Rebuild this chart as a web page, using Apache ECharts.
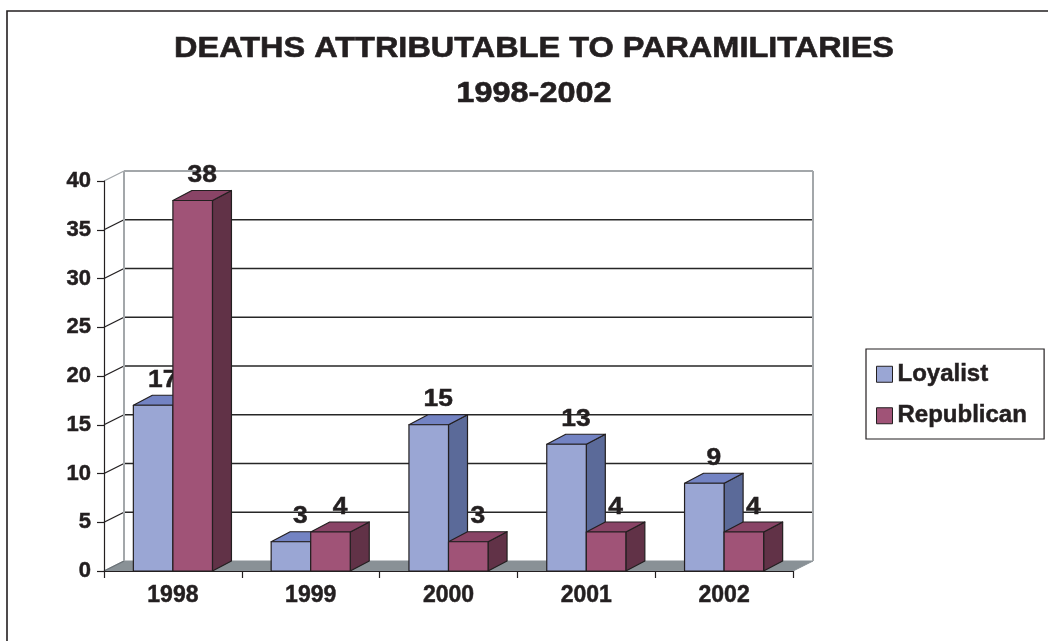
<!DOCTYPE html>
<html>
<head>
<meta charset="utf-8">
<script src="https://cdn.jsdelivr.net/npm/echarts@6/dist/echarts.min.js"></script>
<style>
  html, body { margin: 0; padding: 0; background: #ffffff; }
  #chart { width: 1048px; height: 641px; }
</style>
</head>
<body>
<div id="chart"></div>
<script>
// Deaths attributable to paramilitaries, by year
const categories = ['1998', '1999', '2000', '2001', '2002'];
const loyalist   = [17, 3, 15, 13, 9];
const republican = [38, 4, 3, 4, 4];
const yTicks     = [0, 5, 10, 15, 20, 25, 30, 35, 40];
const titleLines = ['DEATHS ATTRIBUTABLE TO PARAMILITARIES', '1998-2002'];

// depth offsets for the pseudo-3D walls and the bars
const WALL_DX = 20, WALL_DY = -10;
const BAR_DX = 19, BAR_DY = -10;
const BAR_FRAC = 0.287;
const INK = '#231f20';
const FONT = '"Liberation Sans", Arial, Helvetica, sans-serif';
const HEAVY = { textBorderColor: INK, textBorderWidth: 0.5 };

const palette = {
  Loyalist:   { front: '#9aa6d4', top: '#7383c3', side: '#5b6a99' },
  Republican: { front: '#a05377', top: '#894466', side: '#613247' }
};

const yMax = yTicks[yTicks.length - 1];

// Back wall, floor and left wall: one item per y tick
function renderFrame(params, api) {
  const v = api.value(1);
  const n = categories.length;
  const bw = api.size([1, 0])[0];
  const p0 = api.coord([0, v]);
  const pN = api.coord([n - 1, v]);
  const xL = p0[0] - bw / 2, xR = pN[0] + bw / 2, y = p0[1];
  const children = [];
  const isTop = v === yMax;
  if (v === 0) {
    children.push({
      type: 'polygon',
      shape: { points: [[xL, y], [xR, y], [xR + WALL_DX, y + WALL_DY], [xL + WALL_DX, y + WALL_DY]] },
      style: { fill: '#899196', stroke: '#899196', lineWidth: 1 }
    });
  } else {
    children.push({
      type: 'line',
      shape: { x1: xL + WALL_DX, y1: y + WALL_DY, x2: xR + WALL_DX, y2: y + WALL_DY },
      style: { stroke: isTop ? '#a3a7aa' : '#262626', lineWidth: isTop ? 2 : 1.4 }
    });
  }
  if (isTop) {
    const yb = api.coord([0, 0])[1];
    children.push({
      type: 'line',
      shape: { x1: xL + WALL_DX, y1: yb + WALL_DY, x2: xL + WALL_DX, y2: y + WALL_DY },
      style: { stroke: '#a3a7aa', lineWidth: 2 }
    });
    children.push({
      type: 'line',
      shape: { x1: xR + WALL_DX, y1: yb + WALL_DY, x2: xR + WALL_DX, y2: y + WALL_DY },
      style: { stroke: '#a3a7aa', lineWidth: 2 }
    });
  }
  children.push({
    type: 'line',
    shape: { x1: xL, y1: y, x2: xL + WALL_DX, y2: y + WALL_DY },
    style: { stroke: isTop ? '#a3a7aa' : (v === 0 ? '#6b7277' : INK), lineWidth: 1.3 }
  });
  return { type: 'group', children: children };
}

// One 3D column: front face, top face, right side face and value label
function makeBarRenderer(name, offsetSign) {
  const c = palette[name];
  return function (params, api) {
    const i = api.value(0), v = api.value(1);
    const base = api.coord([i, 0]);
    const top = api.coord([i, v]);
    const bw = api.size([1, 0])[0];
    const w = bw * BAR_FRAC;
    const x0 = offsetSign < 0 ? base[0] - w : base[0];
    const x1 = x0 + w;
    const yb = base[1], yt = top[1];
    const edge = { stroke: INK, lineWidth: 1.2, lineJoin: 'round' };
    return {
      type: 'group',
      children: [
        { type: 'polygon',
          shape: { points: [[x1, yt], [x1 + BAR_DX, yt + BAR_DY], [x1 + BAR_DX, yb + BAR_DY], [x1, yb]] },
          style: Object.assign({ fill: c.side }, edge) },
        { type: 'polygon',
          shape: { points: [[x0, yt], [x1, yt], [x1 + BAR_DX, yt + BAR_DY], [x0 + BAR_DX, yt + BAR_DY]] },
          style: Object.assign({ fill: c.top }, edge) },
        { type: 'rect',
          shape: { x: x0, y: yt, width: w, height: yb - yt },
          style: Object.assign({ fill: c.front }, edge) },
        { type: 'text',
          x: (x0 + x1) / 2 + BAR_DX / 2,
          y: yt + BAR_DY - 15,
          scaleX: 1.1,
          style: { text: String(v), x: 0, y: 0, fill: INK, font: 'bold 24px ' + FONT,
                   textAlign: 'center', textVerticalAlign: 'middle', stroke: INK, lineWidth: 0.5 } }
      ]
    };
  };
}

const chart = echarts.init(document.getElementById('chart'), null, { renderer: 'canvas' });

chart.setOption({
  animation: false,
  backgroundColor: '#ffffff',
  graphic: [
    { type: 'rect', z: 100, silent: true,
      shape: { x: 7, y: 11, width: 1200, height: 800 },
      style: { fill: 'none', stroke: INK, lineWidth: 1.6 } },
    { type: 'text', x: 534, y: 49, scaleX: 1.12,
      style: { text: titleLines[0], x: 0, y: 0, fill: INK, font: 'bold 29px ' + FONT,
               textAlign: 'center', textVerticalAlign: 'middle', stroke: INK, lineWidth: 0.6 } },
    { type: 'text', x: 534, y: 94, scaleX: 1.12,
      style: { text: titleLines[1], x: 0, y: 0, fill: INK, font: 'bold 29px ' + FONT,
               textAlign: 'center', textVerticalAlign: 'middle', stroke: INK, lineWidth: 0.6 } }
  ],
  legend: {
    orient: 'vertical',
    left: 866, top: 349,
    padding: [13, 17, 11, 10],
    itemGap: 17,
    itemWidth: 16, itemHeight: 16,
    icon: 'rect',
    borderColor: INK, borderWidth: 1.2, borderRadius: 0,
    textStyle: Object.assign({ color: INK, fontFamily: FONT, fontWeight: 'bold', fontSize: 24 }, HEAVY),
    data: [
      { name: 'Loyalist', itemStyle: { color: palette.Loyalist.front, borderColor: INK, borderWidth: 1 } },
      { name: 'Republican', itemStyle: { color: palette.Republican.front, borderColor: INK, borderWidth: 1 } }
    ]
  },
  grid: { left: 104, top: 181, width: 689, height: 390, containLabel: false },
  xAxis: {
    type: 'category',
    data: categories,
    axisLine: { show: true, lineStyle: { color: INK, width: 1.2 } },
    axisTick: { show: true, length: 7, lineStyle: { color: INK, width: 1.2 } },
    axisLabel: Object.assign({ color: INK, fontFamily: FONT, fontWeight: 'bold', fontSize: 23, margin: 13 }, HEAVY),
    splitLine: { show: false },
    z: 5
  },
  yAxis: {
    type: 'value',
    min: yTicks[0], max: yMax, interval: 5,
    axisLine: { show: true, lineStyle: { color: INK, width: 1.2 } },
    axisTick: { show: true, length: 7, lineStyle: { color: INK, width: 1.2 } },
    axisLabel: Object.assign({ color: INK, fontFamily: FONT, fontWeight: 'bold', fontSize: 22, margin: 13 }, HEAVY),
    splitLine: { show: false },
    z: 5
  },
  series: [
    { type: 'custom', name: 'frame', z: 1, silent: true, clip: false,
      renderItem: renderFrame,
      data: yTicks.map(v => [0, v]) },
    { type: 'custom', name: 'Loyalist', z: 3, clip: false,
      itemStyle: { color: palette.Loyalist.front },
      renderItem: makeBarRenderer('Loyalist', -1),
      data: loyalist.map((v, i) => [i, v]) },
    { type: 'custom', name: 'Republican', z: 4, clip: false,
      itemStyle: { color: palette.Republican.front },
      renderItem: makeBarRenderer('Republican', 1),
      data: republican.map((v, i) => [i, v]) }
  ]
});
</script>
</body>
</html>
